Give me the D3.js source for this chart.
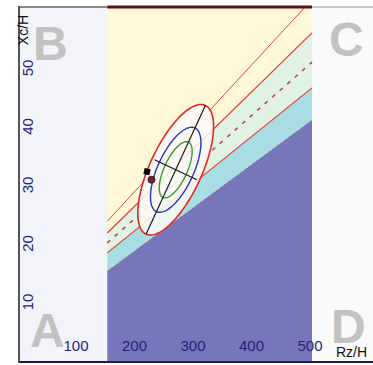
<!DOCTYPE html>
<html>
<head>
<meta charset="utf-8">
<script src="https://cdn.jsdelivr.net/npm/d3@7"></script>
<style>
  html, body { margin: 0; padding: 0; background: #fff; }
  svg { display: block; font-family: "Liberation Sans", Arial, sans-serif; }
</style>
</head>
<body>
<svg id="chart" width="373" height="365"></svg>
<script>
// axis ticks
const xTicks = [100, 200, 300, 400, 500];
const yTicks = [10, 20, 30, 40, 50];

// reference zone: R/H range and the Xc/H of each boundary line at its two ends
const zoneR = [150, 500];
const edgeLow = [15.3, 41.1];     // top of the dark zone
const edgeBlue = [18.4, 46.6];    // top of the light blue band
const edgeMid = [20.1, 51.0];     // dashed middle line
const edgeGreen = [21.8, 56.0];   // top of the light green band
const edgeTop = [23.8, 61.7];     // upper red line

// tolerance ellipses (R/H, Xc/H)
const meanVector = [267, 32.6];
const axisMajor = [50.7, 11.0];   // semi-axis of the outer ellipse
const axisMinor = [40.3, -1.9];
const ellipseLevels = ["95%", "75%", "50%"];
const ellipseScaleMajor = [1, 0.65, 0.43];
const ellipseScaleMinor = [1, 0.69, 0.44];

// measured points
const pointR = [218, 225.6];
const pointXc = [32.3, 30.9];

const quadrants = ["A", "B", "C", "D"];

function run() {
  let svg = d3.select("#chart");
  let x = d3.scaleLinear().domain([0, 600]).range([19.5, 370.5]);
  let y = d3.scaleLinear().domain([0, 60]).range([360.5, 9.5]);
  let top = 7, bottom = 362, left = 19, right = 373;
  let yTop = y.invert(top);

  svg.append("defs").append("clipPath").attr("id", "plot")
    .append("rect").attr("x", left).attr("y", top)
    .attr("width", right - left).attr("height", bottom - top);

  let g = svg.append("g").attr("clip-path", "url(#plot)");

  // side backgrounds
  g.append("rect").attr("x", left).attr("y", top)
    .attr("width", x(zoneR[0]) - left).attr("height", bottom - top)
    .attr("fill", "#f3f4f9");
  g.append("rect").attr("x", x(zoneR[1])).attr("y", top)
    .attr("width", right - x(zoneR[1])).attr("height", bottom - top)
    .attr("fill", "#fafafa");

  // bands between lines
  let band = (lo, hi) => {
    let pts = [[zoneR[0], lo[0]], [zoneR[1], lo[1]], [zoneR[1], hi[1]], [zoneR[0], hi[0]]];
    return d3.line().x(d => x(d[0])).y(d => y(d[1]))(pts) + "Z";
  };
  let floor = [y.invert(bottom + 2), y.invert(bottom + 2)];
  let ceil = [yTop + 2, yTop + 2];
  g.append("path").attr("d", band(edgeGreen, ceil)).attr("fill", "#fff8d8");
  g.append("path").attr("d", band(edgeBlue, edgeGreen)).attr("fill", "#e0f2e2");
  g.append("path").attr("d", band(edgeLow, edgeBlue)).attr("fill", "#a9dde4");
  g.append("path").attr("d", band(floor, edgeLow)).attr("fill", "#7676ba");

  let seg = (e) => d3.line().x(d => x(d[0])).y(d => y(d[1]))([[zoneR[0], e[0]], [zoneR[1], e[1]]]);
  g.append("path").attr("d", seg(edgeLow)).attr("stroke", "#e06080")
    .attr("stroke-width", 1).attr("stroke-dasharray", "2,3").attr("opacity", 0.6).attr("fill", "none");
  g.append("path").attr("d", seg(edgeBlue)).attr("stroke", "#e03a3a").attr("stroke-width", 1.2).attr("fill", "none");
  g.append("path").attr("d", seg(edgeMid)).attr("stroke", "#b84040")
    .attr("stroke-width", 1.5).attr("stroke-dasharray", "4,6").attr("fill", "none");
  g.append("path").attr("d", seg(edgeGreen)).attr("stroke", "#e03a3a").attr("stroke-width", 1.2).attr("fill", "none");
  g.append("path").attr("d", seg(edgeTop)).attr("stroke", "#e04848").attr("stroke-width", 1).attr("fill", "none");

  // ellipses
  let ellipsePts = (sa, sb) => d3.range(0, 360, 3).map(a => {
    let t = a * Math.PI / 180;
    return [meanVector[0] + Math.cos(t) * axisMajor[0] * sa + Math.sin(t) * axisMinor[0] * sb,
            meanVector[1] + Math.cos(t) * axisMajor[1] * sa + Math.sin(t) * axisMinor[1] * sb];
  });
  let closed = d3.line().x(d => x(d[0])).y(d => y(d[1])).curve(d3.curveLinearClosed);
  let ellColors = ["#e02828", "#2a34c8", "#3a9a3a"];
  ellipseLevels.forEach((lvl, i) => {
    g.append("path")
      .attr("class", "ellipse-" + lvl)
      .attr("d", closed(ellipsePts(ellipseScaleMajor[i], ellipseScaleMinor[i])))
      .attr("fill", i === 0 ? "#fcf9f5" : "none")
      .attr("fill-opacity", 0.88)
      .attr("stroke", ellColors[i])
      .attr("stroke-width", i === 0 ? 1.6 : 1.4);
  });

  // axes of the ellipse
  let axLine = (v, k) => [[meanVector[0] - v[0] * k, meanVector[1] - v[1] * k],
                          [meanVector[0] + v[0] * k, meanVector[1] + v[1] * k]];
  let straight = d3.line().x(d => x(d[0])).y(d => y(d[1]));
  g.append("path").attr("d", straight(axLine(axisMajor, 1))).attr("stroke", "#1a1a1a").attr("stroke-width", 1.2);
  g.append("path").attr("d", straight(axLine(axisMinor, 0.9))).attr("stroke", "#1a1a1a").attr("stroke-width", 1.2);

  // points
  g.append("path")
    .attr("d", d3.symbol().type(d3.symbolSquare).size(38)())
    .attr("transform", `translate(${x(pointR[0])},${y(pointXc[0])}) rotate(12)`)
    .attr("fill", "#000");
  g.append("circle")
    .attr("cx", x(pointR[1])).attr("cy", y(pointXc[1])).attr("r", 3.5)
    .attr("fill", "#8a1c1c").attr("stroke", "#222").attr("stroke-width", 1);

  // quadrant letters
  let letterPos = [[30, 347], [33, 60], [329, 56], [331, 343]];
  svg.selectAll(".quad").data(quadrants).enter().append("text")
    .attr("class", "quad")
    .attr("x", (d, i) => letterPos[i][0]).attr("y", (d, i) => letterPos[i][1])
    .attr("font-size", 48).attr("font-weight", "bold").attr("fill", "#c2c2c2")
    .text(d => d);

  // frame
  svg.append("line").attr("x1", left).attr("x2", x(zoneR[0])).attr("y1", top).attr("y2", top)
    .attr("stroke", "#8a8a8a").attr("stroke-width", 2);
  svg.append("line").attr("x1", x(zoneR[0])).attr("x2", x(zoneR[1])).attr("y1", top).attr("y2", top)
    .attr("stroke", "#5a1414").attr("stroke-width", 3);
  svg.append("line").attr("x1", x(zoneR[1])).attr("x2", right).attr("y1", top).attr("y2", top)
    .attr("stroke", "#c8c8c8").attr("stroke-width", 2);
  svg.append("line").attr("x1", left).attr("x2", left).attr("y1", top - 1).attr("y2", bottom + 1)
    .attr("stroke", "#555").attr("stroke-width", 2);
  svg.append("line").attr("x1", left).attr("x2", right).attr("y1", bottom).attr("y2", bottom)
    .attr("stroke", "#1c1c4a").attr("stroke-width", 2);

  // tick labels
  svg.selectAll(".xt").data(xTicks).enter().append("text")
    .attr("class", "xt")
    .attr("x", d => x(d) - 2).attr("y", 351)
    .attr("text-anchor", "middle").attr("font-size", 15).attr("fill", "#24247a")
    .text(d => d);
  svg.selectAll(".yt").data(yTicks).enter().append("text")
    .attr("class", "yt")
    .attr("transform", d => `translate(33,${y(d)}) rotate(-90)`)
    .attr("text-anchor", "middle").attr("font-size", 15).attr("fill", "#24247a")
    .text(d => d);

  // axis titles
  svg.append("text").attr("x", 336).attr("y", 357)
    .attr("font-size", 14).attr("fill", "#111").text("Rz/H");
  svg.append("text").attr("transform", "translate(28,30) rotate(-90)")
    .attr("text-anchor", "middle").attr("font-size", 14).attr("fill", "#111").text("Xc/H");
}

run();
</script>
</body>
</html>
